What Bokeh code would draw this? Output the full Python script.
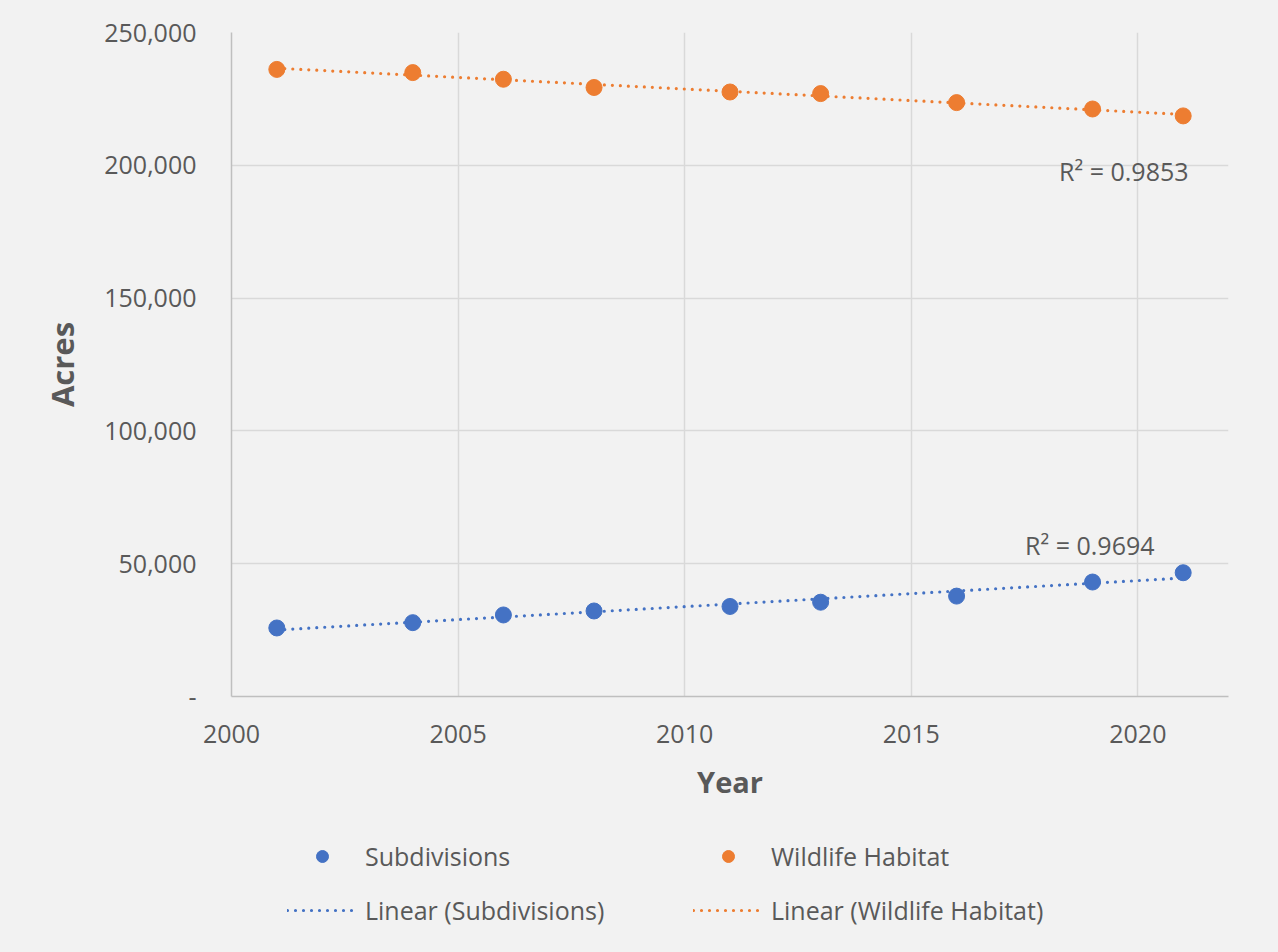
import numpy as np
from bokeh.plotting import figure
from bokeh.layouts import column
from bokeh.models import (Range1d, NumeralTickFormatter, Legend, LegendItem,
                          FixedTicker, Label)
from bokeh.embed import file_html
from bokeh.resources import INLINE

# Survey years and acreage
years = [2001, 2004, 2006, 2008, 2011, 2013, 2016, 2019, 2021]
subdivisions = [25800, 27800, 30700, 32200, 33900, 35500, 37800, 43100, 46600]
wildlife_habitat = [236100, 234900, 232400, 229300, 227600, 227000, 223600, 221200, 218600]

# Goodness-of-fit labels for the trend lines
r2_subdivisions = "R² = 0.9694"
r2_wildlife = "R² = 0.9853"

x_ticks = [2000, 2005, 2010, 2015, 2020]
y_ticks = [0, 50000, 100000, 150000, 200000, 250000]

BLUE = "#4472C4"
ORANGE = "#ED7D31"
TEXT = "#595959"
BG = "#F2F2F2"
GRID = "#D9D9D9"
FONT = "Open Sans"

p = figure(frame_width=997, frame_height=664,
           min_border_left=231, min_border_right=50,
           min_border_top=32, min_border_bottom=114,
           x_range=Range1d(2000, 2022), y_range=Range1d(0, 250000),
           output_backend="svg", toolbar_location=None,
           background_fill_color=BG, border_fill_color=BG,
           outline_line_color=None)

# Trend lines (least squares fits)
xs = np.array(years, dtype=float)
x_fit = np.array([years[0], years[-1]], dtype=float)
fit_sub = np.polyval(np.polyfit(xs, subdivisions, 1), x_fit)
fit_hab = np.polyval(np.polyfit(xs, wildlife_habitat, 1), x_fit)

line_style = dict(line_width=3.2, line_dash="0 8", line_cap="round")
p.line(x_fit, fit_sub, line_color=BLUE, **line_style)
p.line(x_fit, fit_hab, line_color=ORANGE, **line_style)

p.scatter(years, subdivisions, size=16, fill_color=BLUE, line_color=BLUE)
p.scatter(years, wildlife_habitat, size=16, fill_color=ORANGE, line_color=ORANGE)

# R² annotations
for txt, xv, yv in [(r2_wildlife, 2019.69, 197700), (r2_subdivisions, 2018.94, 56900)]:
    p.add_layout(Label(x=xv, y=yv, text=txt, text_align="center",
                       text_baseline="middle", text_font=FONT,
                       text_font_size="25px", text_color=TEXT))

# Axes
p.xaxis.ticker = FixedTicker(ticks=x_ticks)
p.yaxis.ticker = FixedTicker(ticks=y_ticks)
p.yaxis.formatter = NumeralTickFormatter(format="0,0")
p.yaxis.major_label_overrides = {0: "-"}

for ax in (p.xaxis, p.yaxis):
    ax.axis_line_color = "#BFBFBF"
    ax.axis_line_width = 1.5
    ax.major_tick_line_color = None
    ax.minor_tick_line_color = None
    ax.major_label_text_font = FONT
    ax.major_label_text_font_size = "25px"
    ax.major_label_text_color = TEXT
    ax.axis_label_text_font = FONT
    ax.axis_label_text_font_style = "bold"
    ax.axis_label_text_color = TEXT

p.xaxis.axis_label_text_font_size = "29px"
p.yaxis.axis_label_text_font_size = "31px"
p.xaxis.axis_label = "Year"
p.yaxis.axis_label = "Acres"
p.xaxis.major_label_standoff = 22
p.xaxis.axis_label_standoff = 16
p.yaxis.major_label_standoff = 29
p.yaxis.axis_label_standoff = 18

p.xgrid.grid_line_color = GRID
p.ygrid.grid_line_color = GRID
p.xgrid.grid_line_width = 1.5
p.ygrid.grid_line_width = 1.5

# Legend strip under the chart. It plots the same series, kept outside its
# (0..1) view, so that the legend swatches share the series' styling.
leg = figure(frame_width=997, height=142,
             min_border_left=231, min_border_right=50,
             min_border_top=0, min_border_bottom=0,
             x_range=Range1d(0, 1), y_range=Range1d(0, 1),
             output_backend="svg", toolbar_location=None,
             background_fill_alpha=0, border_fill_alpha=0,
             outline_line_color=None)
leg.axis.visible = False
leg.grid.visible = False

sw_sub = leg.scatter(years, subdivisions, fill_color=BLUE, line_color=BLUE)
sw_hab = leg.scatter(years, wildlife_habitat, fill_color=ORANGE, line_color=ORANGE)
sw_lin_sub = leg.line(x_fit, fit_sub, line_color=BLUE, **line_style)
sw_lin_hab = leg.line(x_fit, fit_hab, line_color=ORANGE, **line_style)

# Items fill column by column: points on the first row, trends on the second
legend = Legend(items=[
    LegendItem(label="Subdivisions", renderers=[sw_sub]),
    LegendItem(label="Linear (Subdivisions)", renderers=[sw_lin_sub]),
    LegendItem(label="Wildlife Habitat", renderers=[sw_hab]),
    LegendItem(label="Linear (Wildlife Habitat)", renderers=[sw_lin_hab]),
], ncols=2, location=(56, 25), padding=0, margin=0,
   glyph_width=70, glyph_height=30, label_height=34, label_width=308,
   label_standoff=8, spacing=20,
   label_text_font=FONT, label_text_font_size="25px", label_text_color=TEXT,
   background_fill_alpha=0, border_line_color=None)
leg.add_layout(legend, "center")

layout = column(p, leg, spacing=0, styles={"background-color": BG})
open("out.html", "w").write(file_html(layout, INLINE))
